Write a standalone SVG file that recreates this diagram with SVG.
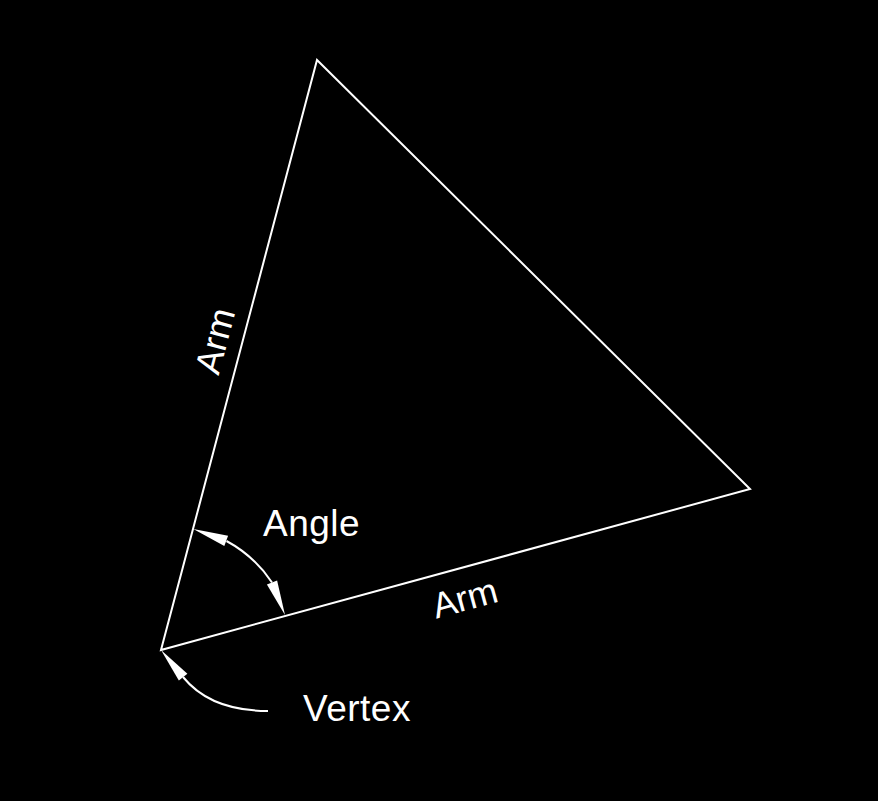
<svg xmlns="http://www.w3.org/2000/svg" width="878" height="801" viewBox="0 0 878 801">
<style>
.ln{fill:none;stroke:#fff;stroke-width:2}
.ah{fill:#fff}
.t{fill:#fff;font-family:"Liberation Sans",Arial,sans-serif;font-size:36px}
.t2{font-size:37px;letter-spacing:0.5px}
</style>
<defs>
<path id="ah" class="ah" d="M0,0 L-35,-5.5 L-35,5.5 Z"/>
</defs>
<rect width="878" height="801" fill="#000"/>
<g id="triangle">
<path class="ln" d="M161,650 L317,60 L750,489 Z"/>
</g>
<g id="connectors">
<path class="ln" d="M226.5,541 A128,128 0 0 1 272,582.5"/>
<use href="#ah" transform="translate(193.3,529) rotate(-160.1)"/>
<use href="#ah" transform="translate(285,615) rotate(68.2)"/>
<path class="ln" d="M268,711 Q210.7,711 183,677"/>
<use href="#ah" transform="translate(161,650) rotate(-129.2)"/>
</g>
<g id="labels">
<text class="t t2" x="263" y="536">Angle</text>
<text class="t t2" x="303" y="721">Vertex</text>
<text class="t" text-anchor="middle" transform="translate(468,610) rotate(-15.3)">Arm</text>
<text class="t" text-anchor="middle" transform="translate(227,344) rotate(-75.2)">Arm</text>
</g>
</svg>
